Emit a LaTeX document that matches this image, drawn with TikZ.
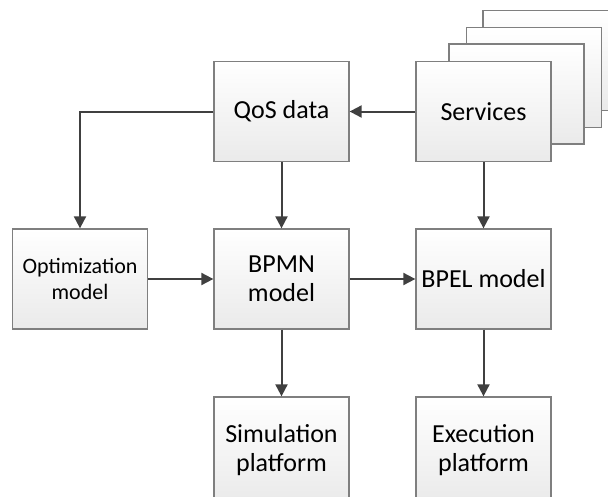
\documentclass[tikz,border=0pt]{standalone}
\usepackage{fontspec}
\setmainfont{Carlito}
\usetikzlibrary{arrows.meta}
\definecolor{linecol}{HTML}{404040}
\definecolor{boxborder}{HTML}{7F7F7F}
\definecolor{boxbottom}{HTML}{EAEAEA}
\begin{document}
\begin{tikzpicture}[x=1pt,y=-1pt,
  blk/.style={draw=boxborder, line width=1.3pt, top color=white, bottom color=boxbottom,
    minimum width=135pt, minimum height=100pt, inner sep=2pt, align=center,
    font=\fontsize{26}{29}\selectfont},
  smallblk/.style={blk, font=\fontsize{22}{26.5}\selectfont},
  tallblk/.style={blk, minimum height=106pt},
  conn/.style={draw=linecol, line width=2pt, -{Triangle[length=12pt,width=12pt]}}]
\useasboundingbox (0,0) rectangle (608,496);
\clip (0,0) rectangle (608,496);
% stacked service boxes (back)
\node[blk] (svc4) at (550.5,60.5) {};
\node[blk] (svc3) at (534,77.5) {};
\node[blk] (svc2) at (516.5,94) {};
\node[blk] (svc) at (483.5,111.5) {Services};
\node[blk] (qos) at (281.5,111.5) {QoS data};
\node[smallblk] (opt) at (80,279) {Optimization\\model};
\node[blk] (bpmn) at (281.5,279) {BPMN\\model};
\node[blk] (bpel) at (483.5,279) {BPEL model};
\node[tallblk] (sim) at (281.5,450) {Simulation\\platform};
\node[tallblk] (exe) at (483.5,450) {Execution\\platform};
% connectors
\draw[conn] (svc.west) -- (qos.east);
\draw[conn] (qos.west) -| (opt.north);
\draw[conn] (qos.south) -- (bpmn.north);
\draw[conn] (svc.south) -- (bpel.north);
\draw[conn] (opt.east) -- (bpmn.west);
\draw[conn] (bpmn.east) -- (bpel.west);
\draw[conn] (bpmn.south) -- (sim.north);
\draw[conn] (bpel.south) -- (exe.north);
\end{tikzpicture}
\end{document}
